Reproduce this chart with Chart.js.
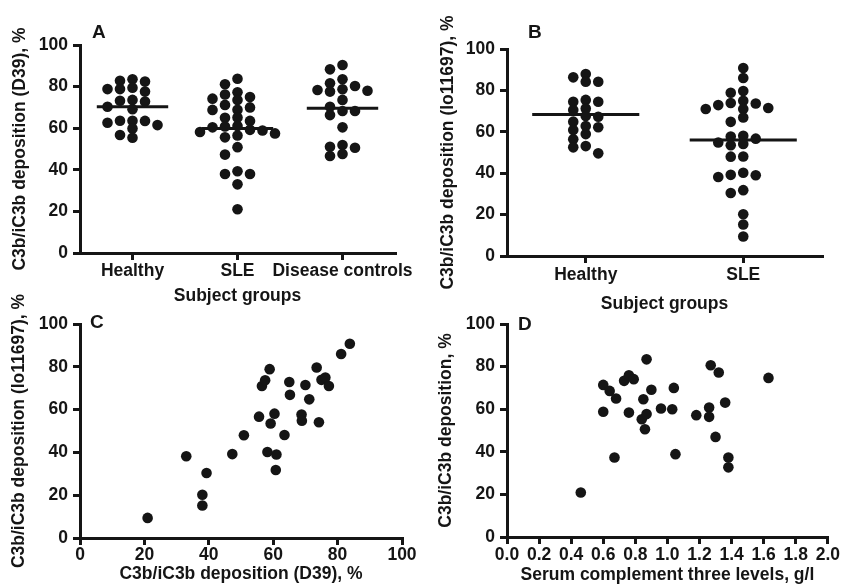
<!DOCTYPE html>
<html>
<head>
<meta charset="utf-8">
<title>C3b/iC3b deposition</title>
<script src="https://cdn.jsdelivr.net/npm/chart.js@4.4.1/dist/chart.umd.min.js"></script>
<style>
    html, body { margin: 0; padding: 0; background: #fff; }
    #figure { position: relative; width: 841px; height: 588px; }
    #figure canvas { position: absolute; left: 0; top: 0; }
</style>
</head>
<body>
<div id="figure">
    <canvas id="panel-a" width="841" height="588"></canvas>
    <canvas id="panel-b" width="841" height="588"></canvas>
    <canvas id="panel-c" width="841" height="588"></canvas>
    <canvas id="panel-d" width="841" height="588"></canvas>
</div>
<script>
// Data
const groupsA = ['Healthy', 'SLE', 'Disease controls'];
const groupsB = ['Healthy', 'SLE'];
const depositionTicks = [0, 20, 40, 60, 80, 100];

// Panel A, D39 deposition, %
const healthyD39 = [82.8, 83.5, 82.4, 79.5, 78.8, 77.6, 78.8, 73.6, 72.8, 73.2, 69.1, 70.3, 63.6, 62.6, 59.9, 61.5, 63.5, 63.6, 55.4, 56.7];
const controlsD39 = [90.4, 88.3, 83.5, 81.6, 78.7, 78.0, 77.6, 78.4, 80.3, 73.6, 70.3, 68.3, 68.3, 66.3, 60.4, 51.9, 50.6, 46.6, 47.6, 51.1];
const mediansA = [70.3, 59.9, 69.6];

// Panel B, lo11697 deposition, %
const healthyLo11697 = [86.3, 84.2, 84.2, 87.9, 74.5, 71.3, 70.5, 74.5, 75.4, 67.3, 67.6, 64.9, 62.2, 62.8, 60.9, 58.9, 56.4, 53.1, 52.5, 49.6];
const mediansB = [68.3, 56.0];

// SLE patients, paired (panel C, also the SLE columns of A and B)
const sleD39 = [21.0, 33.0, 38.0, 38.0, 39.3, 47.3, 50.9, 55.6, 56.5, 57.5, 58.9, 59.2, 58.2, 60.4, 61.0, 60.8, 63.5, 65.0, 65.2, 68.8, 68.9, 70.0, 71.2, 73.5, 74.2, 75.0, 76.2, 77.3, 81.1, 83.8];
const sleLo11697 = [9.4, 38.2, 20.2, 15.2, 30.4, 39.2, 48.0, 56.7, 71.0, 73.7, 78.9, 53.5, 40.2, 58.1, 39.0, 31.8, 48.1, 72.9, 66.9, 57.7, 54.8, 71.5, 64.8, 79.7, 54.1, 73.9, 75.0, 71.0, 86.0, 90.8];

// Panel D
const c3Levels = [0.46, 0.60, 0.60, 0.64, 0.68, 0.67, 0.73, 0.76, 0.79, 0.76, 0.85, 0.84, 0.87, 0.90, 0.87, 0.86, 0.96, 1.03, 1.04, 1.05, 1.18, 1.27, 1.32, 1.26, 1.26, 1.30, 1.36, 1.38, 1.38, 1.63];
const depositionD = [20.9, 71.4, 58.8, 68.6, 65.0, 37.3, 73.3, 75.9, 74.1, 58.4, 64.7, 55.3, 83.4, 69.1, 57.7, 50.6, 60.3, 60.0, 70.0, 38.9, 57.2, 80.6, 77.2, 60.8, 56.4, 47.0, 63.1, 37.3, 32.7, 74.7];

const FONT = '"Liberation Sans", Arial, Helvetica, sans-serif';
const INK = '#151515';
const W = 841, H = 588;

Chart.defaults.font.family = FONT;
Chart.defaults.color = INK;

// Panel letter (A, B, C, D)
const panelLetter = {
    id: 'panelLetter',
    afterDraw(chart, args, opts) {
        const { ctx, chartArea } = chart;
        ctx.save();
        ctx.font = 'bold 19px ' + FONT;
        ctx.fillStyle = INK;
        ctx.fillText(opts.text, chartArea.left + opts.dx, chartArea.top + opts.dy);
        ctx.restore();
    }
};

// Spread a group's dots sideways like a dot plot
function swarm(values, group, slotWidth, minGap) {
    const placed = [];
    const order = values.map((v, i) => i).sort((a, b) => values[b] - values[a]);
    order.forEach(i => {
        const v = values[i];
        for (let k = 0; k < 15; k++) {
            const slot = k % 2 ? -Math.ceil(k / 2) : k / 2;
            if (placed.every(p => p.slot !== slot || Math.abs(p.y - v) >= minGap)) {
                placed.push({ slot: slot, x: group + slot * slotWidth, y: v });
                return;
            }
        }
    });
    return placed.map(p => ({ x: p.x, y: p.y }));
}

function dots(points) {
    return {
        data: points,
        pointRadius: 5.3,
        pointHoverRadius: 5.3,
        pointBackgroundColor: INK,
        pointBorderWidth: 0,
        showLine: false,
        clip: false
    };
}

function medianLine(value, group) {
    return {
        data: [{ x: group - 0.34, y: value }, { x: group + 0.34, y: value }],
        showLine: true,
        borderColor: INK,
        borderWidth: 3,
        pointRadius: 0,
        clip: false
    };
}

function makePanel(id, p) {
    const textFont = { family: FONT, size: 17.5, weight: 'bold' };
    const axisLine = { color: INK, width: 3 };
    const tickMarks = { drawOnChartArea: false, color: INK, lineWidth: 3, tickLength: 7 };

    const x = {
        type: 'linear',
        min: p.xMin,
        max: p.xMax,
        border: axisLine,
        grid: tickMarks,
        ticks: Object.assign({ color: INK, font: textFont, padding: p.xTickPad, maxRotation: 0, autoSkip: false }, p.xTicks || {}),
        title: { display: true, text: p.xTitle, color: INK, font: textFont, padding: 0 },
        afterFit: s => { s.height = p.xBox; }
    };
    if (p.categories) {
        x.afterBuildTicks = s => { s.ticks = p.categories.map((c, i) => ({ value: i })); };
        x.ticks.callback = v => p.categories[v];
    }

    return new Chart(document.getElementById(id), {
        type: 'scatter',
        data: { datasets: p.datasets },
        options: {
            responsive: false,
            animation: false,
            layout: {
                padding: {
                    left: p.area.left - p.yBox,
                    top: p.area.top,
                    right: W - p.area.right,
                    bottom: H - p.area.bottom - p.xBox
                }
            },
            plugins: {
                legend: { display: false },
                tooltip: { enabled: false },
                panelLetter: p.letter
            },
            scales: {
                x: x,
                y: {
                    min: 0,
                    max: 100,
                    border: axisLine,
                    grid: tickMarks,
                    afterBuildTicks: s => { s.ticks = depositionTicks.map(v => ({ value: v })); },
                    ticks: { color: INK, font: textFont, padding: 5 },
                    title: { display: true, text: p.yTitle, color: INK, font: textFont, padding: { top: p.yTitlePad, bottom: 0 } },
                    afterFit: s => { s.width = p.yBox; }
                }
            }
        },
        plugins: [panelLetter]
    });
}

// A
const areaA = { left: 80, top: 45, right: 395, bottom: 253 };
const slotA = 12.5 / ((areaA.right - areaA.left) / groupsA.length);
const gapA = 7.5 / ((areaA.bottom - areaA.top) / 100);
makePanel('panel-a', {
    area: areaA, yBox: 80, xBox: 54, xTickPad: 1, yTitlePad: 10,
    xMin: -0.5, xMax: groupsA.length - 0.5, categories: groupsA,
    xTitle: 'Subject groups', yTitle: 'C3b/iC3b deposition (D39), %',
    letter: { text: 'A', dx: 12, dy: -7 },
    datasets: [
        dots(swarm(healthyD39, 0, slotA, gapA)),
        dots(swarm(sleD39, 1, slotA, gapA)),
        dots(swarm(controlsD39, 2, slotA, gapA))
    ].concat(mediansA.map(medianLine))
});

// B
const areaB = { left: 507, top: 49, right: 822, bottom: 256 };
const slotB = 12.5 / ((areaB.right - areaB.left) / groupsB.length);
const gapB = 7.5 / ((areaB.bottom - areaB.top) / 100);
makePanel('panel-b', {
    area: areaB, yBox: 87, xBox: 59, xTickPad: 1.5, yTitlePad: 18,
    xMin: -0.5, xMax: groupsB.length - 0.5, categories: groupsB,
    xTitle: 'Subject groups', yTitle: 'C3b/iC3b deposition (lo11697), %',
    letter: { text: 'B', dx: 21, dy: -11 },
    datasets: [
        dots(swarm(healthyLo11697, 0, slotB, gapB)),
        dots(swarm(sleLo11697, 1, slotB, gapB))
    ].concat(mediansB.map(medianLine))
});

// C
makePanel('panel-c', {
    area: { left: 80, top: 324, right: 402, bottom: 538 }, yBox: 80, xBox: 47, xTickPad: 0, yTitlePad: 9,
    xMin: 0, xMax: 100, xTicks: { stepSize: 20 },
    xTitle: 'C3b/iC3b deposition (D39), %', yTitle: 'C3b/iC3b deposition (lo11697), %',
    letter: { text: 'C', dx: 10, dy: 4 },
    datasets: [dots(sleD39.map((v, i) => ({ x: v, y: sleLo11697[i] })))]
});

// D
makePanel('panel-d', {
    area: { left: 507, top: 324, right: 828, bottom: 537 }, yBox: 87, xBox: 49, xTickPad: 1, yTitlePad: 16,
    xMin: 0, xMax: 2, xTicks: { stepSize: 0.2, callback: v => v.toFixed(1) },
    xTitle: 'Serum complement three levels, g/l', yTitle: 'C3b/iC3b deposition, %',
    letter: { text: 'D', dx: 11, dy: 6 },
    datasets: [dots(c3Levels.map((v, i) => ({ x: v, y: depositionD[i] })))]
});
</script>
</body>
</html>
